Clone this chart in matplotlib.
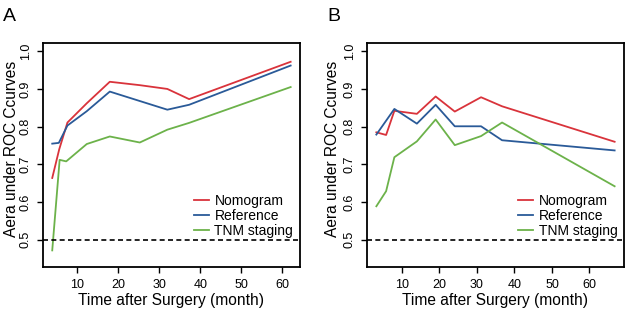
import matplotlib
matplotlib.use("Agg")
import matplotlib.pyplot as plt

plt.rcParams['font.family'] = ['Liberation Sans', 'DejaVu Sans']

# panel A
a_time = [4, 5.7, 7.7, 12.4, 18, 25.3, 32, 37.3, 62]
a_nomo = [0.664, 0.74, 0.811, 0.862, 0.919, 0.910, 0.900, 0.873, 0.972]
a_ref_time = [4, 5.6, 7.7, 12.4, 18, 32, 37.3, 62]
a_ref = [0.755, 0.757, 0.803, 0.841, 0.893, 0.845, 0.858, 0.962]
a_tnm_time = [4, 5.8, 7.4, 12.4, 18, 25.3, 32, 37.3, 62]
a_tnm = [0.472, 0.712, 0.708, 0.754, 0.774, 0.758, 0.792, 0.810, 0.905]

# panel B
b_time = [3.2, 5.8, 8.0, 14, 19, 24.1, 31.1, 36.7, 66.7]
b_nomo = [0.785, 0.778, 0.842, 0.834, 0.880, 0.840, 0.878, 0.854, 0.760]
b_ref_time = [3.2, 8.0, 14, 19, 24.1, 31.1, 36.7, 66.7]
b_ref = [0.779, 0.847, 0.808, 0.858, 0.801, 0.801, 0.764, 0.737]
b_tnm = [0.589, 0.629, 0.719, 0.761, 0.819, 0.751, 0.775, 0.811, 0.642]

labels = ["Nomogram", "Reference", "TNM staging"]
colors = ["#d9333b", "#2a5a98", "#6cb24a"]
xticks = [10, 20, 30, 40, 50, 60]
yticks = [0.5, 0.6, 0.7, 0.8, 0.9, 1.0]

fig = plt.figure(figsize=(6.28, 3.11), dpi=100)
axA = fig.add_axes([0.068, 0.1415, 0.410, 0.7205])
axB = fig.add_axes([0.584, 0.1415, 0.410, 0.7205])

panels = [
    (axA, [(a_time, a_nomo), (a_ref_time, a_ref), (a_tnm_time, a_tnm)], (1.68, 64.32), "A", 0.005, -0.094),
    (axB, [(b_time, b_nomo), (b_ref_time, b_ref), (b_time, b_tnm)], (0.64, 69.26), "B", 0.522, -0.104),
]

for ax, series, xlim, tag, tx, lx in panels:
    for (x, y), lab, c in zip(series, labels, colors):
        ax.plot(x, y, color=c, lw=1.3, label=lab)
    ax.axhline(0.5, color="black", lw=1.2, ls=(0, (3, 2)))
    ax.set_xlim(*xlim)
    ax.set_ylim(0.428, 1.022)
    ax.set_xticks(xticks)
    ax.set_yticks(yticks)
    ax.set_yticklabels(["0.5", "0.6", "0.7", "0.8", "0.9", "1.0"], rotation=90, va="center")
    ax.tick_params(direction="out", length=4, width=1, labelsize=9, colors="black")
    ax.tick_params(axis="y", pad=4)
    ax.tick_params(axis="x", pad=5)
    for s in ax.spines.values():
        s.set_linewidth(1.3)
    ax.set_xlabel("Time after Surgery (month)", fontsize=11.2, labelpad=1)
    ax.set_ylabel("Aera under ROC Ccurves", fontsize=11.2)
    ax.yaxis.set_label_coords(lx, 0.529)
    ax.legend(loc="lower right", bbox_to_anchor=(1.0, 0.1), frameon=False,
              fontsize=10, handlelength=1.1, handletextpad=0.4,
              labelspacing=0.05, borderaxespad=0.1)
    fig.text(tx, 0.975, tag, fontsize=14, va="top", ha="left")

fig.savefig("out.png", dpi=100)
